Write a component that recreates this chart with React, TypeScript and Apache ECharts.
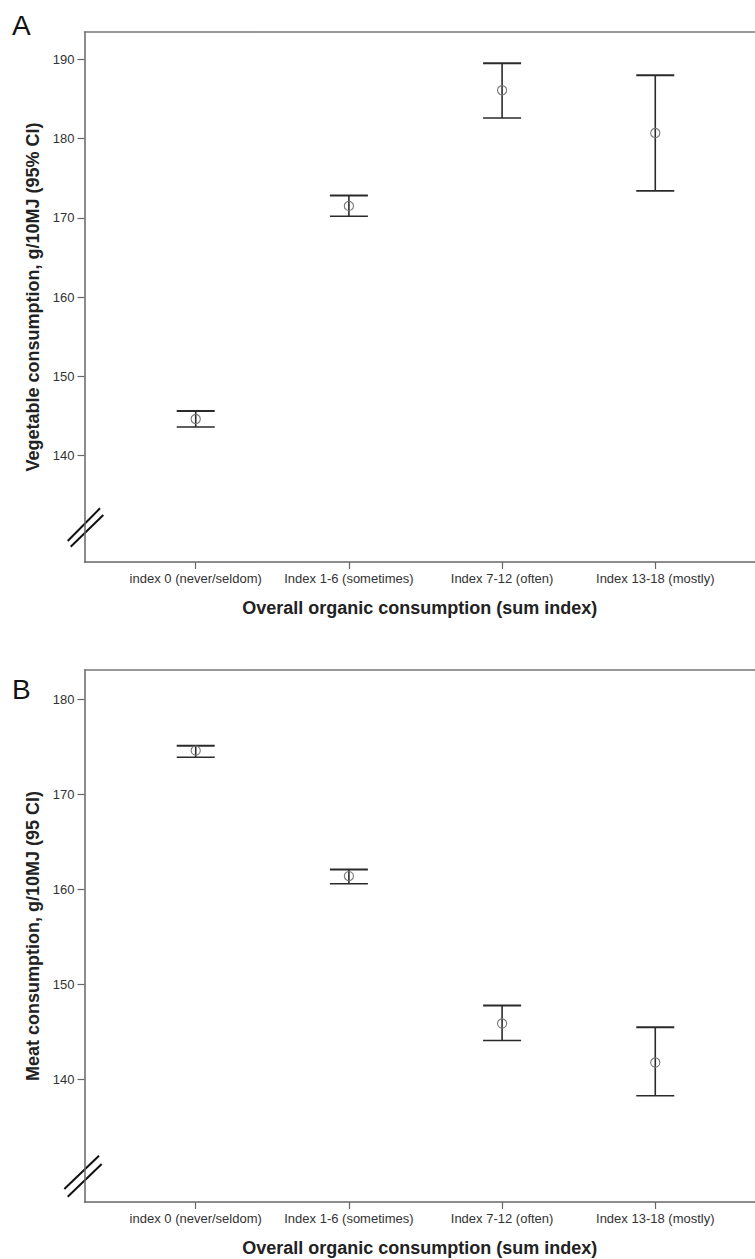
import React, { useEffect, useRef } from "react";
import * as echarts from "echarts";

// ---- data ----
const categories = [
  "index 0 (never/seldom)",
  "Index 1-6 (sometimes)",
  "Index 7-12 (often)",
  "Index 13-18 (mostly)",
];
const xPositions = [1, 2, 3, 4];

const vegMean = [144.6, 171.5, 186.1, 180.7];
const vegLower = [143.6, 170.2, 182.6, 173.4];
const vegUpper = [145.6, 172.8, 189.5, 188.0];

const meatMean = [174.6, 161.4, 145.9, 141.8];
const meatLower = [173.9, 160.6, 144.1, 138.3];
const meatUpper = [175.1, 162.1, 147.8, 145.5];

const vegTicks = [140, 150, 160, 170, 180, 190];
const meatTicks = [140, 150, 160, 170, 180];

const vegTitle = "Vegetable consumption, g/10MJ (95% CI)";
const meatTitle = "Meat consumption, g/10MJ (95 CI)";
const xTitle = "Overall organic consumption (sum index)";

const FONT = "'Liberation Sans', Arial, sans-serif";
const XMIN = 0.274;
const XMAX = 4.651;

function buildData(mean: number[], lo: number[], hi: number[]) {
  return xPositions.map((x, i) => [x, mean[i], lo[i], hi[i]]);
}

const renderErrorBar = (params: any, api: any) => {
  const x = api.value(0);
  const p = api.coord([x, api.value(1)]);
  const pl = api.coord([x, api.value(2)]);
  const ph = api.coord([x, api.value(3)]);
  const hw = 19;
  const lineStyle = { stroke: "#2a2a2a", lineWidth: 1.6 };
  return {
    type: "group",
    children: [
      { type: "line", shape: { x1: p[0], y1: ph[1], x2: p[0], y2: pl[1] }, style: lineStyle },
      { type: "line", shape: { x1: p[0] - hw, y1: ph[1], x2: p[0] + hw, y2: ph[1] }, style: { stroke: "#2a2a2a", lineWidth: 2 } },
      { type: "line", shape: { x1: p[0] - hw, y1: pl[1], x2: p[0] + hw, y2: pl[1] }, style: lineStyle },
      { type: "circle", shape: { cx: p[0], cy: p[1], r: 4.6 }, style: { fill: "rgba(255,255,255,0)", stroke: "#777", lineWidth: 1.1 } },
    ],
  };
};

function xAxisPair(gridIndex: number) {
  return [
    {
      type: "value",
      gridIndex,
      min: XMIN,
      max: XMAX,
      position: "bottom",
      axisLine: { show: true, onZero: false, lineStyle: { color: "#666", width: 1.5 } },
      axisTick: { show: true, customValues: xPositions, length: 7, lineStyle: { color: "#666", width: 1.2 } },
      axisLabel: {
        show: true,
        customValues: xPositions,
        formatter: (v: number) => categories[Math.round(v) - 1] ?? "",
        fontSize: 13,
        color: "#333",
        fontFamily: FONT,
        margin: 10,
      },
      splitLine: { show: false },
      name: xTitle,
      nameLocation: "middle",
      nameGap: 37,
      nameTextStyle: { fontSize: 18, fontWeight: "bold", color: "#222", fontFamily: FONT },
    },
    {
      type: "value",
      gridIndex,
      min: XMIN,
      max: XMAX,
      position: "top",
      axisLine: { show: true, onZero: false, lineStyle: { color: "#777", width: 1.5 } },
      axisTick: { show: false },
      axisLabel: { show: false },
      splitLine: { show: false },
    },
  ];
}

function yAxis(gridIndex: number, min: number, max: number, ticks: number[], title: string) {
  return {
    type: "value",
    gridIndex,
    min,
    max,
    axisLine: { show: true, onZero: false, lineStyle: { color: "#666", width: 1.5 } },
    axisTick: { show: true, customValues: ticks, length: 7, lineStyle: { color: "#666", width: 1.2 } },
    axisLabel: { show: true, customValues: ticks, fontSize: 13, color: "#333", fontFamily: FONT, margin: 10 },
    splitLine: { show: false },
    name: title,
    nameLocation: "middle",
    nameGap: 32,
    nameTextStyle: { fontSize: 18, fontWeight: "bold", color: "#222", fontFamily: FONT },
  };
}

export default function App() {
  const ref = useRef<HTMLDivElement>(null);
  useEffect(() => {
    if (!ref.current) return;
    const chart = echarts.init(ref.current, null, { renderer: "svg" });
    const xs = [...xAxisPair(0), ...xAxisPair(1)];
    chart.setOption({
      animation: false,
      backgroundColor: "#fff",
      grid: [
        { left: 84.5, right: 0, top: 32, height: 530 },
        { left: 84.5, right: 0, top: 670, height: 532 },
      ],
      xAxis: xs,
      yAxis: [
        yAxis(0, 126.55, 193.45, vegTicks, vegTitle),
        yAxis(1, 127.12, 183.08, meatTicks, meatTitle),
      ],
      series: [
        {
          type: "custom",
          xAxisIndex: 0,
          yAxisIndex: 0,
          renderItem: renderErrorBar,
          encode: { x: 0, y: [1, 2, 3] },
          data: buildData(vegMean, vegLower, vegUpper),
        },
        {
          type: "custom",
          xAxisIndex: 2,
          yAxisIndex: 1,
          renderItem: renderErrorBar,
          encode: { x: 0, y: [1, 2, 3] },
          data: buildData(meatMean, meatLower, meatUpper),
        },
      ],
      graphic: [
        { type: "text", left: 12, top: 11, style: { text: "A", fontSize: 28, fill: "#111", fontFamily: FONT } },
        { type: "text", left: 12, top: 675, style: { text: "B", fontSize: 28, fill: "#111", fontFamily: FONT } },
        { type: "line", shape: { x1: 67.7, y1: 541, x2: 100, y2: 508.3 }, style: { stroke: "#111", lineWidth: 2 } },
        { type: "line", shape: { x1: 70.7, y1: 546.7, x2: 103.3, y2: 515 }, style: { stroke: "#111", lineWidth: 2 } },
        { type: "line", shape: { x1: 64.3, y1: 1189, x2: 99, y2: 1155.7 }, style: { stroke: "#111", lineWidth: 2 } },
        { type: "line", shape: { x1: 67.7, y1: 1196.7, x2: 101.7, y2: 1164 }, style: { stroke: "#111", lineWidth: 2 } },
      ],
    });
    return () => chart.dispose();
  }, []);
  return (
    <div
      ref={ref}
      style={{ position: "absolute", left: 0, top: 0, width: 755, height: 1259, background: "#fff" }}
    />
  );
}
